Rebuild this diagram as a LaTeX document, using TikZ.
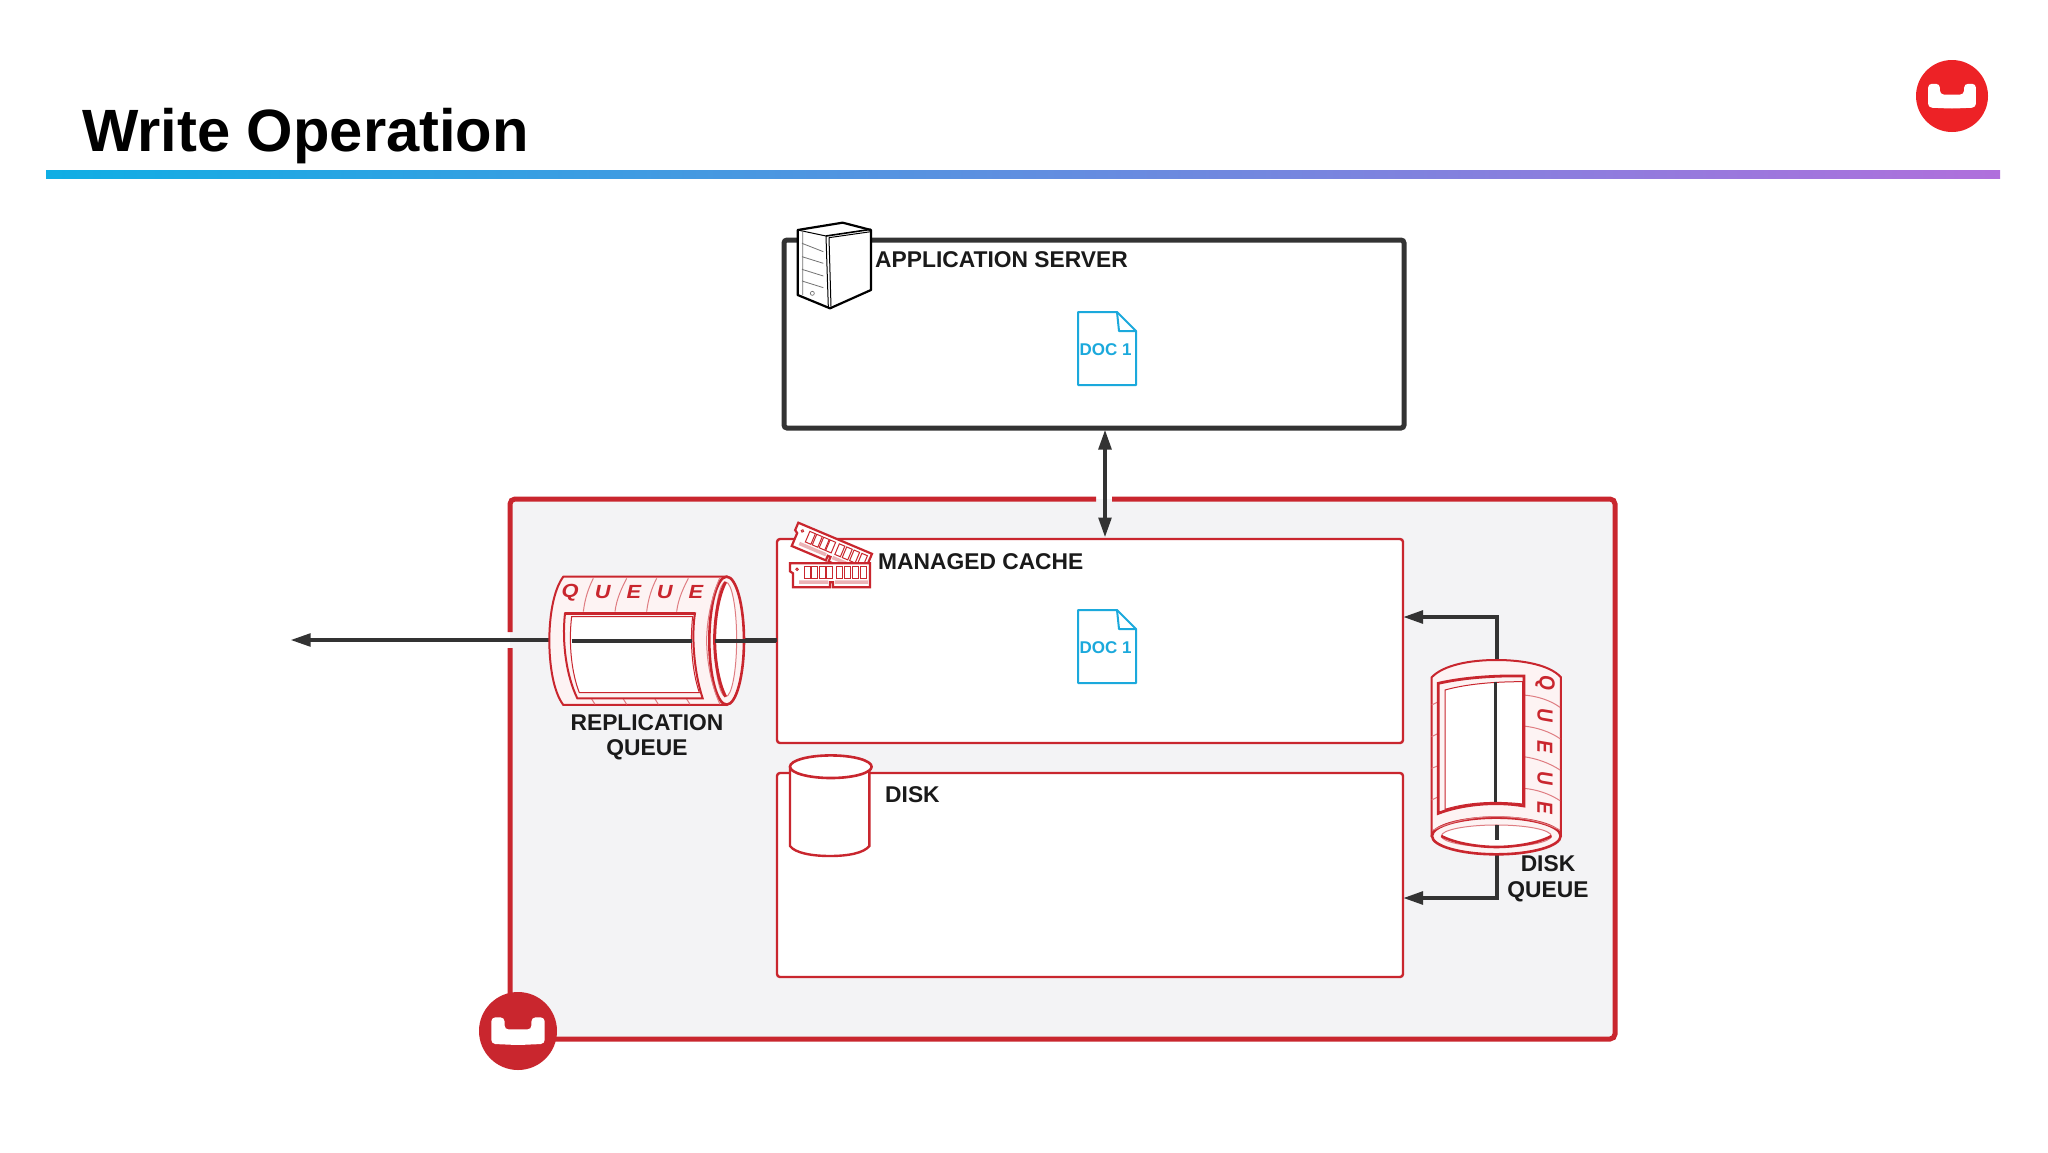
\documentclass[tikz,border=0pt]{standalone}
\usepackage{fontspec}
\setmainfont{Liberation Sans}
\usetikzlibrary{arrows.meta}
\definecolor{cbred}{HTML}{C9262E}
\definecolor{cblogo}{HTML}{ED2226}
\definecolor{cbpanel}{HTML}{F3F3F5}
\definecolor{cbpink}{HTML}{FDF3F3}
\definecolor{cbline}{HTML}{333333}
\definecolor{cbtext}{HTML}{1A1A1A}
\definecolor{cbdoc}{HTML}{1BA9DC}
\definecolor{ruleleft}{HTML}{0FAEE4}
\definecolor{rulemid}{HTML}{7F9AE0}
\definecolor{ruleright}{HTML}{B06FDC}
\tikzset{
  box/.style={rectangle,draw=cbred,line width=2.4pt,fill=white,rounded corners=3pt,outer sep=0pt,inner sep=0pt},
  flow/.style={draw=cbline,line width=4pt},
  tip/.style={-{Triangle[length=20pt,width=12.5pt]}},
  label/.style={font=\fontsize{22.8}{26}\selectfont\bfseries,text=cbtext,inner sep=0pt},
  qchar/.style={font=\fontsize{19}{19}\selectfont\bfseries\itshape,text=cbred,inner sep=0pt,xscale=1.15},
  thin red/.style={draw=cbred!60,line width=1pt},
  pics/docpage/.style={code={
    \draw[cbdoc,line width=2pt,fill=white,line join=round] (0,0) -- (39,0) -- (58,19) -- (58,73) -- (0,73) -- cycle;
    \draw[cbdoc,line width=2pt,line join=round] (39,0) -- (41,19) -- (58,19);
    \node[font=\fontsize{17}{18}\selectfont\bfseries,text=cbdoc,inner sep=0pt,anchor=base] (-txt) at (27.5,43) {DOC 1};
  }},
  pics/couchmark/.style={code={
    \fill[white,rounded corners=4pt] (-0.685,-0.35) -- (-0.345,-0.35) -- (-0.345,-0.04) -- (0.345,-0.04) -- (0.345,-0.35) -- (0.685,-0.35) -- (0.685,0.33) -- (0,0.36) -- (-0.685,0.33) -- cycle;
  }},
  pics/ramstick/.style={code={
    \draw[cbred,line width=2.2pt,fill=white,line join=miter] (0,0) -- (80,0) -- (80,24) -- (43,24) -- (43,19) -- (40,19) -- (40,24) -- (3,24) -- (3,10) -- (0,8) -- cycle;
    \fill[cbred!35] (9,17) rectangle (38,20.5) (45,17) rectangle (78,20.5);
    \draw[cbred,line width=0.9pt] (7,6) circle (1.3);
    \foreach \cx in {17,24.5,32,39}{\draw[cbred,line width=1pt] (\cx-3,3.5) rectangle (\cx+3,15);}
    \foreach \cx in {49,57,65,73.5}{\draw[cbred,line width=1pt] (\cx-3,3.5) rectangle (\cx+3,15);}
  }}
}
\begin{document}
\begin{tikzpicture}[x=1pt,y=-1pt]
\useasboundingbox (0,0) rectangle (2048,1152);
\fill[white] (0,0) rectangle (2048,1152);

% title and rule
\node[font=\fontsize{59.7}{70}\selectfont\bfseries,text=black,inner sep=0pt,anchor=base west] (title) at (82,151) {Write Operation};
\shade[left color=ruleleft,middle color=rulemid,right color=ruleright] (46,170) rectangle (2000,178);
\node[circle,fill=cblogo,minimum size=72pt,inner sep=0pt] (logotop) at (1952,96) {};
\pic[scale=35] at (logotop) {couchmark};

% cluster panel with gaps for the connectors
\node[rectangle,fill=cbpanel,minimum width=1105pt,minimum height=540pt,outer sep=0pt] (panel) at (1062.5,769) {};
\draw[cbred,line width=5pt,rounded corners=5pt] (1112,499) -- (panel.north east) -- (panel.south east) -- (panel.south west) -- (510,648);
\draw[cbred,line width=5pt,rounded corners=5pt] (510,632) -- (panel.north west) -- (1096,499);

% boxes
\node[box,draw=cbline,line width=5pt,minimum width=620pt,minimum height=188pt] (app) at (1094,334) {};
\node[box,minimum width=626pt,minimum height=204pt] (cache) at (1090,641) {};
\node[box,minimum width=626pt,minimum height=204pt] (disk) at (1090,875) {};

% connectors
\coordinate (up) at (1105,429.5);
\coordinate (dn) at (1105,537.5);
\draw[flow,{Triangle[length=20pt,width=12.5pt]}-{Triangle[length=20pt,width=12.5pt]}] (up) -- (dn);
\coordinate (repout) at (290.5,640);
\coordinate (repin) at (cache.west |- 0,640);
\draw[flow,line width=3.6pt,tip] (repin) -- (repout);
\coordinate (dqtop) at (1497,660);
\coordinate (dqbot) at (1497,850);
\coordinate (dqa) at (cache.east |- 0,617);
\coordinate (dqb) at (disk.east |- 0,898);
\draw[flow,tip] (dqtop) |- (dqa);
\draw[flow,tip] (dqbot) |- (dqb);

% documents
\pic (doca) at (1078,312) {docpage};
\pic (docb) at (1078,610) {docpage};

% server icon
\begin{scope}[shift={(760,200)},x=0.3333pt,y=-0.3333pt]
\draw[black,line width=2.2pt,fill=white,line join=round] (113,90) -- (248,68) -- (333,90) -- (333,270) -- (210,325) -- (113,285) -- cycle;
\draw[black,line width=1pt] (113,90) -- (198,108) -- (205,322);
\draw[black,line width=1.6pt] (198,108) -- (333,88);
\draw[black,line width=1pt] (207,113) -- (333,95) (207,113) -- (213,320);
\draw[black!55,line width=0.8pt] (126,130) -- (190,155) (126,170) -- (190,190) (126,208) -- (190,228) (126,243) -- (190,263) (128,92) -- (128,285);
\draw[black!55,line width=0.7pt] (157,280) circle (6);
\end{scope}

% ram icon
\pic[rotate=-22.9] at (798.3,522.7) {ramstick};
\pic at (790,563.3) {ramstick};

% disk icon
\draw[cbred,line width=2.4pt,fill=white] (790,766.7) -- (790,846) .. controls (795,853) and (812,856) .. (830,856) .. controls (848,856) and (864,853) .. (869.3,846) -- (869.3,766.7);
\draw[cbred,line width=2.6pt,fill=white] (830.8,766.7) ellipse [x radius=40.8,y radius=11.3];

% replication queue
\begin{scope}[shift={(520,510)},x=0.3333pt,y=-0.3333pt]
\draw[cbred,line width=2pt,fill=cbpink] (620,200) -- (130,200) .. controls (100,240) and (88,320) .. (88,392) .. controls (88,465) and (100,545) .. (130,585) -- (620,585) -- cycle;
\draw[cbred,line width=2.6pt,fill=cbpink] (620,392) ellipse [x radius=52,y radius=192];
\draw[thin red] (600,202) .. controls (575,260) and (560,330) .. (560,392) .. controls (560,455) and (575,530) .. (600,583);
\draw[thin red] (220,205) .. controls (205,235) and (195,265) .. (190,305) (320,205) .. controls (305,235) and (290,265) .. (285,305) (410,205) .. controls (395,235) and (385,265) .. (380,305) (505,205) .. controls (490,235) and (475,265) .. (470,305) (215,567) -- (225,583) (310,567) -- (320,583) (405,567) -- (415,583) (500,567) -- (510,583);
\draw[thin red,fill=white] (617,388) ellipse [x radius=33,y radius=172];
\draw[cbred,line width=3pt] (617,216) .. controls (598,250) and (584,320) .. (584,388) .. controls (584,456) and (598,526) .. (617,560);
\draw[cbred,line width=2pt,fill=cbpink] (135,310) -- (525,310) .. controls (515,370) and (520,480) .. (548,565) -- (172,565) .. controls (140,500) and (125,400) .. (135,310) -- cycle;
\draw[cbred,line width=1pt,fill=white] (155,320) -- (518,320) .. controls (510,390) and (515,480) .. (538,548) -- (178,548) .. controls (155,490) and (145,400) .. (155,320) -- cycle;
\draw[cbred,line width=3pt] (135,311) -- (525,311);
\draw[flow,line width=3.6pt] (155,393) -- (515,393);
\draw[flow,line width=3.6pt] (585,393) -- (768,393);
\node[qchar] (qa) at (150,247) {Q};
\node[qchar] (qb) at (248,247) {U};
\node[qchar] (qc) at (342,247) {E};
\node[qchar] (qd) at (434,247) {U};
\node[qchar] (qe) at (528,247) {E};
\end{scope}

% disk queue
\begin{scope}[shift={(1380,600)},x=0.3333pt,y=-0.3333pt]
\draw[cbred,line width=2pt,fill=cbpink] (155,708) -- (155,232) .. controls (190,195) and (270,180) .. (349,180) .. controls (430,180) and (510,195) .. (543,232) -- (543,708) -- cycle;
\draw[cbred,line width=2.6pt,fill=cbpink] (349,708) ellipse [x radius=193,y radius=55];
\draw[thin red] (160,690) .. controls (220,660) and (290,650) .. (349,650) .. controls (410,650) and (480,660) .. (540,690);
\draw[thin red] (430,285) .. controls (470,288) and (510,300) .. (540,322) (430,378) .. controls (470,382) and (510,395) .. (540,416) (430,470) .. controls (470,475) and (510,490) .. (540,510) (430,565) .. controls (470,568) and (510,582) .. (540,602) (155,315) -- (175,305) (155,410) -- (175,400) (155,505) -- (175,497) (155,600) -- (175,590);
\draw[cbred,line width=2.8pt,fill=cbpink] (175,250) .. controls (240,235) and (330,226) .. (432,228) -- (432,618) .. controls (340,602) and (240,615) .. (175,640) -- cycle;
\draw[cbred,line width=1pt,fill=white] (195,270) .. controls (260,252) and (340,245) .. (428,245) -- (428,612) .. controls (340,602) and (260,608) .. (195,628) -- cycle;
\draw[cbred,line width=2.6pt] (432,228) -- (432,618);
\draw[thin red,fill=white] (349,708) ellipse [x radius=165,y radius=33];
\draw[cbred,line width=2.6pt] (184,708) .. controls (220,728) and (290,741) .. (349,741) .. controls (410,741) and (480,728) .. (514,708);
\draw[flow,line width=3.2pt] (347,245) -- (347,606);
\draw[flow] (350,675) -- (350,720);
\node[qchar,rotate=-90] (ra) at (495,248) {Q};
\node[qchar,rotate=-90] (rb) at (495,345) {U};
\node[qchar,rotate=-90] (rc) at (495,440) {E};
\node[qchar,rotate=-90] (rd) at (495,535) {U};
\node[qchar,rotate=-90] (re) at (495,625) {E};
\end{scope}

% labels
\node[label,anchor=base west] (apptxt) at (875,267) {APPLICATION SERVER};
\node[label,anchor=base west] (cachetxt) at (878,569) {MANAGED CACHE};
\node[label,anchor=base west] (disktxt) at (885,802) {DISK};
\node[label,anchor=base] (repa) at (647,730) {REPLICATION};
\node[label,anchor=base] (repb) at (647,755) {QUEUE};
\node[label,anchor=base] (dska) at (1548,871) {DISK};
\node[label,anchor=base] (dskb) at (1548,897) {QUEUE};

% couchbase mark on the cluster
\node[circle,fill=cbred,minimum size=78pt,inner sep=0pt] (logopanel) at (518,1031) {};
\pic[scale=39] at (logopanel) {couchmark};
\end{tikzpicture}
\end{document}
